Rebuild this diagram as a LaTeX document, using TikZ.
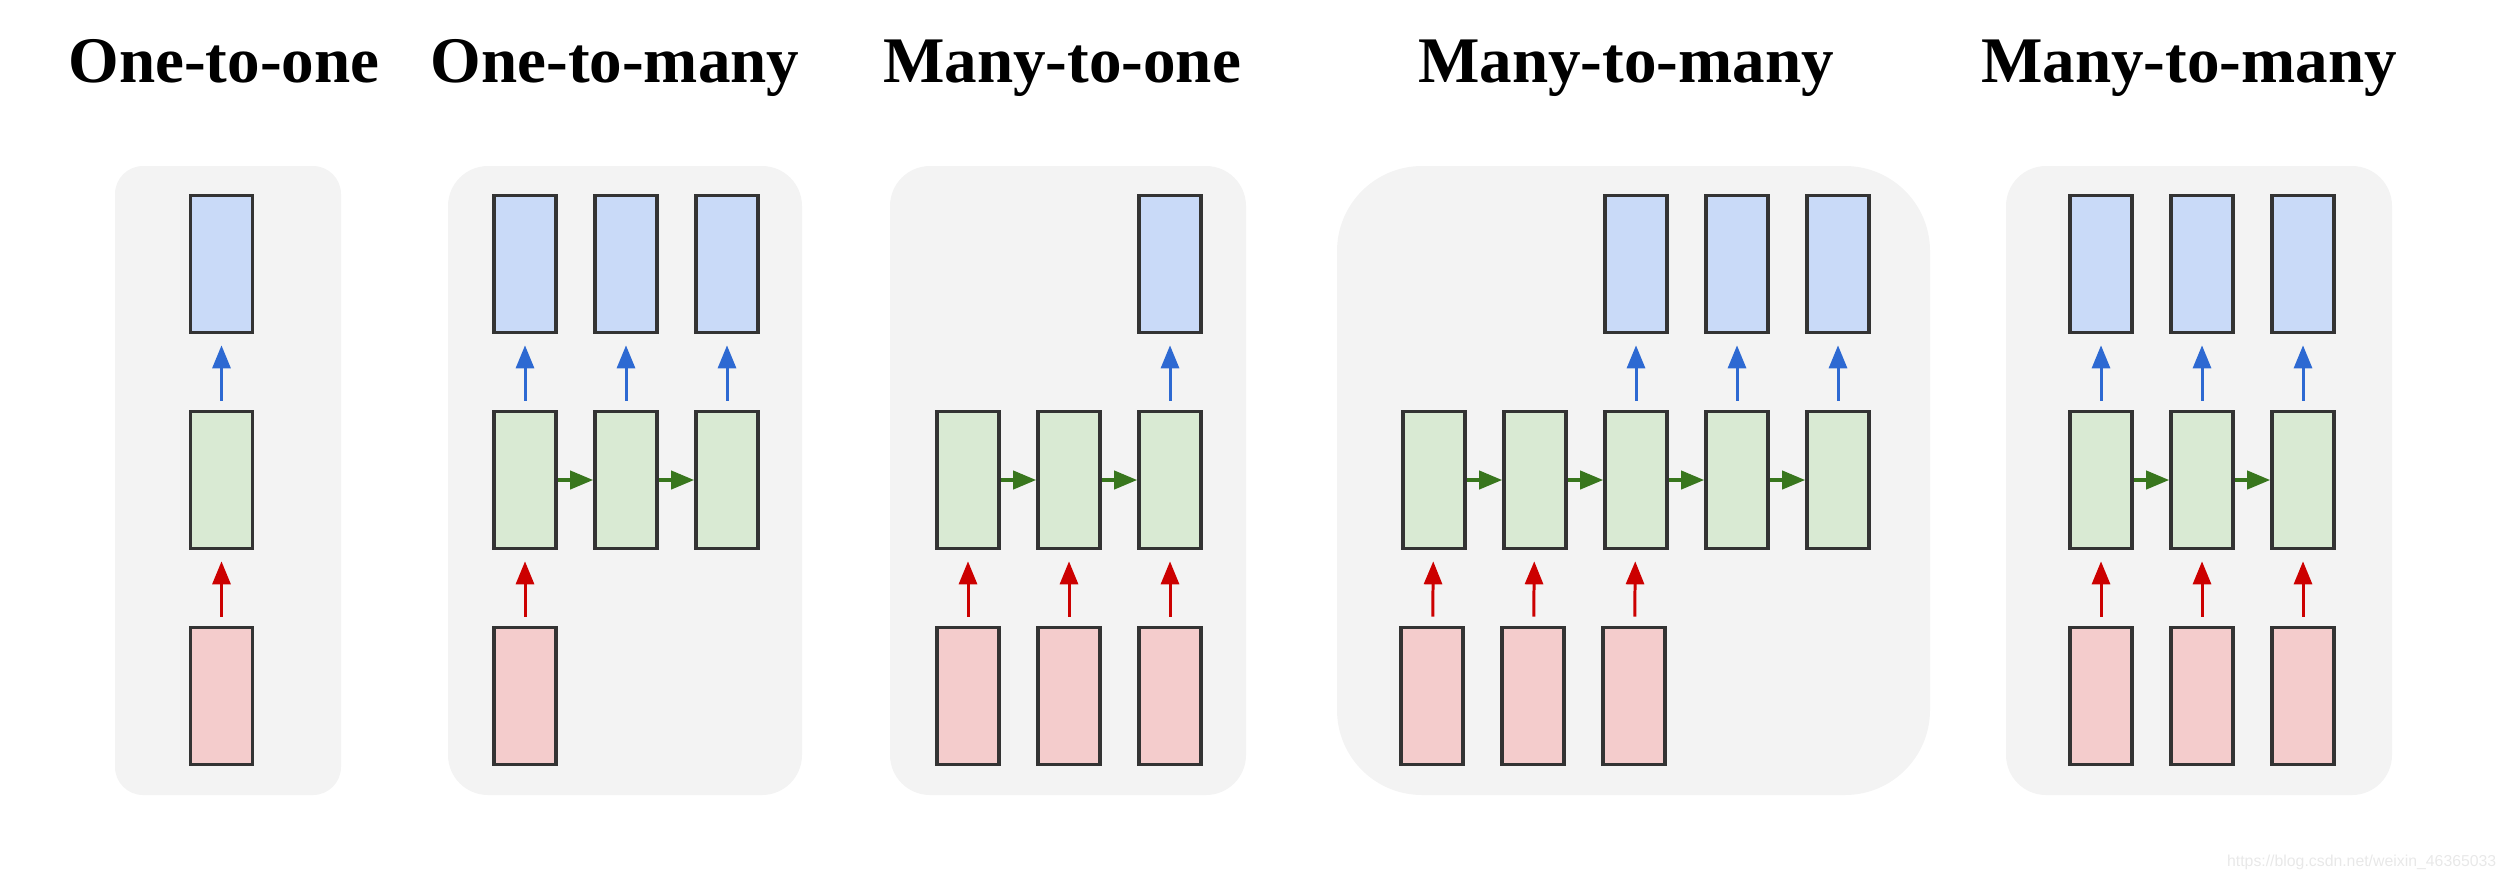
\documentclass[tikz,border=0pt]{standalone}
\usepackage{fontspec}
\setmainfont{Liberation Serif}
\setsansfont{Liberation Sans}
\usepackage{tikz}
\usetikzlibrary{arrows.meta}
\definecolor{PanelGrey}{RGB}{243,243,243}
\definecolor{BoxEdge}{RGB}{51,51,51}
\definecolor{OutBlue}{RGB}{201,218,248}
\definecolor{HidGreen}{RGB}{217,234,211}
\definecolor{InRed}{RGB}{244,204,204}
\definecolor{ArrowBlue}{RGB}{45,105,210}
\definecolor{ArrowGreen}{RGB}{56,118,29}
\definecolor{ArrowRed}{RGB}{204,0,0}
\definecolor{MarkGrey}{RGB}{232,232,232}

\begin{document}
\begin{tikzpicture}[
x=0.01cm, y=-0.01cm,
panel/.style={fill=PanelGrey, rounded corners=0.4cm},
cellbox/.style={
draw=BoxEdge,
line width=1pt,
minimum width=0.62cm,
minimum height=1.37cm,
inner sep=0pt
},
outcell/.style={cellbox, fill=OutBlue},
hidcell/.style={cellbox, fill=HidGreen},
incell/.style={cellbox, fill=InRed},
uparrow/.style={
line width=0.85pt,
-{Triangle[width=0.18cm,length=0.23cm]},
shorten <=0.09cm,
shorten >=0.11cm
},
toout/.style={uparrow, draw=ArrowBlue},
tohid/.style={uparrow, draw=ArrowRed},
tonext/.style={
draw=ArrowGreen,
line width=1.1pt,
-{Triangle[width=0.18cm,length=0.23cm]}
},
title/.style={
anchor=base,
font=\bfseries\fontsize{18.5}{22}\selectfont
}
]
\useasboundingbox (0,0) rectangle (2506,884);

% titles
\node[title] (t1) at (224,82) {One-to-one};
\node[title] (t2) at (615,82) {One-to-many};
\node[title] (t3) at (1062,82) {Many-to-one};
\node[title] (t4) at (1626,82) {Many-to-many};
\node[title] (t5) at (2189,82) {Many-to-many};

% panels
\fill[panel, rounded corners=0.28cm] (115,166) rectangle (341,795);
\fill[panel] (448,166) rectangle (802,795);
\fill[panel] (890,166) rectangle (1246,795);
\fill[panel, rounded corners=0.85cm] (1337,166) rectangle (1930,795);
\fill[panel] (2006,166) rectangle (2392,795);

% one-to-one
\node[outcell] (oo-y) at (221.5,264) {};
\node[hidcell] (oo-h) at (221.5,480) {};
\node[incell] (oo-x) at (221.5,696) {};
\draw[tohid] (oo-x) -- (oo-h);
\draw[toout] (oo-h) -- (oo-y);

% one-to-many
\node[outcell] (om-y1) at (525,264) {};
\node[outcell] (om-y2) at (626,264) {};
\node[outcell] (om-y3) at (727,264) {};
\node[hidcell] (om-h1) at (525,480) {};
\node[hidcell] (om-h2) at (626,480) {};
\node[hidcell] (om-h3) at (727,480) {};
\node[incell] (om-x1) at (525,696) {};
\draw[tohid] (om-x1) -- (om-h1);
\draw[tonext] (om-h1) -- (om-h2);
\draw[tonext] (om-h2) -- (om-h3);
\draw[toout] (om-h1) -- (om-y1);
\draw[toout] (om-h2) -- (om-y2);
\draw[toout] (om-h3) -- (om-y3);

% many-to-one
\node[outcell] (mo-y3) at (1170,264) {};
\node[hidcell] (mo-h1) at (968,480) {};
\node[hidcell] (mo-h2) at (1069,480) {};
\node[hidcell] (mo-h3) at (1170,480) {};
\node[incell] (mo-x1) at (968,696) {};
\node[incell] (mo-x2) at (1069,696) {};
\node[incell] (mo-x3) at (1170,696) {};
\draw[tohid] (mo-x1) -- (mo-h1);
\draw[tohid] (mo-x2) -- (mo-h2);
\draw[tohid] (mo-x3) -- (mo-h3);
\draw[tonext] (mo-h1) -- (mo-h2);
\draw[tonext] (mo-h2) -- (mo-h3);
\draw[toout] (mo-h3) -- (mo-y3);

% many-to-many, delayed
\node[outcell] (md-y3) at (1636,264) {};
\node[outcell] (md-y4) at (1737,264) {};
\node[outcell] (md-y5) at (1838,264) {};
\node[hidcell] (md-h1) at (1434,480) {};
\node[hidcell] (md-h2) at (1535,480) {};
\node[hidcell] (md-h3) at (1636,480) {};
\node[hidcell] (md-h4) at (1737,480) {};
\node[hidcell] (md-h5) at (1838,480) {};
\node[incell] (md-x1) at (1432,696) {};
\node[incell] (md-x2) at (1533,696) {};
\node[incell] (md-x3) at (1634,696) {};
\draw[tohid] (md-x1) -- (md-h1);
\draw[tohid] (md-x2) -- (md-h2);
\draw[tohid] (md-x3) -- (md-h3);
\draw[tonext] (md-h1) -- (md-h2);
\draw[tonext] (md-h2) -- (md-h3);
\draw[tonext] (md-h3) -- (md-h4);
\draw[tonext] (md-h4) -- (md-h5);
\draw[toout] (md-h3) -- (md-y3);
\draw[toout] (md-h4) -- (md-y4);
\draw[toout] (md-h5) -- (md-y5);

% many-to-many, synced
\node[outcell] (ms-y1) at (2101,264) {};
\node[outcell] (ms-y2) at (2202,264) {};
\node[outcell] (ms-y3) at (2303,264) {};
\node[hidcell] (ms-h1) at (2101,480) {};
\node[hidcell] (ms-h2) at (2202,480) {};
\node[hidcell] (ms-h3) at (2303,480) {};
\node[incell] (ms-x1) at (2101,696) {};
\node[incell] (ms-x2) at (2202,696) {};
\node[incell] (ms-x3) at (2303,696) {};
\draw[tohid] (ms-x1) -- (ms-h1);
\draw[tohid] (ms-x2) -- (ms-h2);
\draw[tohid] (ms-x3) -- (ms-h3);
\draw[tonext] (ms-h1) -- (ms-h2);
\draw[tonext] (ms-h2) -- (ms-h3);
\draw[toout] (ms-h1) -- (ms-y1);
\draw[toout] (ms-h2) -- (ms-y2);
\draw[toout] (ms-h3) -- (ms-y3);

\node[anchor=base east, inner sep=0pt, text=MarkGrey,
font=\sffamily\fontsize{4.5}{5}\selectfont] (mark) at (2497,866)
{https://blog.csdn.net/weixin\_46365033};

\end{tikzpicture}
\end{document}
